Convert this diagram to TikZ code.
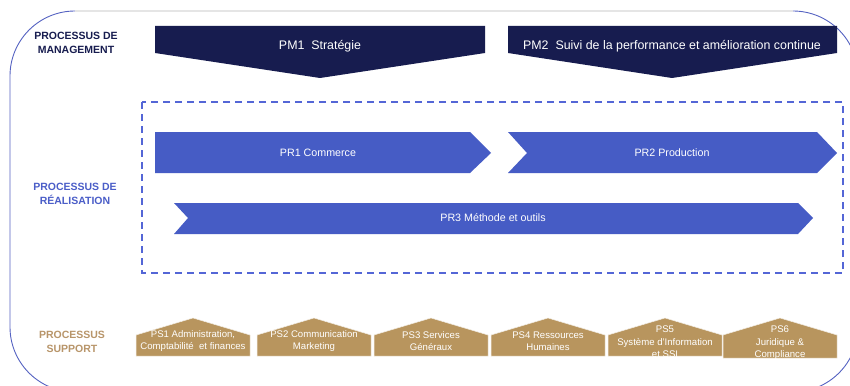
\documentclass[tikz,border=0pt]{standalone}
\usepackage{fontspec}
\setmainfont{Liberation Sans}
\definecolor{navy}{HTML}{171C4F}
\definecolor{prblue}{HTML}{465CC5}
\definecolor{dashblue}{HTML}{5466D6}
\definecolor{frameblue}{HTML}{5563C2}
\definecolor{tan}{HTML}{B8955E}
\definecolor{tanlabel}{HTML}{B8956A}
\definecolor{reallabel}{HTML}{4B5EC8}
\tikzset{
  pmshape/.style={fill=navy,draw=none},
  prshape/.style={fill=prblue,draw=none},
  psshape/.style={fill=tan,draw=white!85!tan,line width=0.5pt},
  pmtext/.style={text=white,font=\fontsize{12.4}{14}\selectfont,inner sep=0pt},
  prtext/.style={text=white,font=\fontsize{10.7}{12}\selectfont,inner sep=0pt},
  pstext/.style={text=white,font=\fontsize{9.6}{12.5}\selectfont,align=center,inner sep=0pt},
  sidelabel/.style={font=\bfseries\fontsize{10.5}{14}\selectfont,align=center,inner sep=0pt},
}
\begin{document}
\begin{tikzpicture}[x=1pt,y=-1pt]
\useasboundingbox (0,0) rectangle (850,385);
\clip (0,0) rectangle (850,385);
\fill[white] (0,0) rectangle (850,385);
% outer frame
\draw[frameblue,line width=0.9pt,rounded corners=65pt] (10,11) rectangle (858,392);
\draw[gray!20,line width=1.2pt] (75,11) -- (793,11);
% side labels
\node[sidelabel,text=navy] (lblman) at (76,43) {PROCESSUS DE\\MANAGEMENT};
\node[sidelabel,text=reallabel] (lblreal) at (75,194) {PROCESSUS DE\\RÉALISATION};
\node[sidelabel,text=tanlabel] (lblsup) at (72,342) {PROCESSUS\\SUPPORT};
% management
\fill[pmshape] (155,26) -- (485,26) -- (485,53) -- (320,78) -- (155,53) -- cycle;
\node[pmtext] (pm1) at (320,46) {PM1 \ Stratégie};
\fill[pmshape] (508,26) -- (837,26) -- (837,53) -- (672,78) -- (508,53) -- cycle;
\node[pmtext] (pm2) at (672,46) {PM2 \ Suivi de la performance et amélioration continue};
% realisation frame
\draw[dashblue,line width=1.8pt,dash pattern=on 7pt off 5pt] (142,102) rectangle (843,273);
\fill[prshape] (155,132) -- (470,132) -- (491,153) -- (470,173) -- (155,173) -- cycle;
\node[prtext] (pr1) at (318,153) {PR1 Commerce};
\fill[prshape] (508,132) -- (817,132) -- (837,153) -- (817,173) -- (508,173) -- (527,153) -- cycle;
\node[prtext] (pr2) at (672,153) {PR2 Production};
\fill[prshape] (174,203) -- (798,203) -- (813,218) -- (798,234) -- (174,234) -- (188,218) -- cycle;
\node[prtext] (pr3) at (493,218) {PR3 Méthode et outils};
% support
\foreach \L/\B in {136/356,257/356,374/356,491/356,608/356,723/358}{
  \filldraw[psshape] (\L,\B) -- (\L,335) -- (\L+57,318) -- (\L+114,335) -- (\L+114,\B) -- cycle;
}
\node[pstext] (ps1) at (193,341) {PS1 Administration,\\Comptabilité \ et finances};
\node[pstext] (ps2) at (314,341) {PS2 Communication\\Marketing};
\node[pstext] (ps3) at (431,341) {PS3 Services\\Généraux};
\node[pstext] (ps4) at (548,341) {PS4 Ressources\\Humaines};
\node[pstext] (ps5) at (665,342) {PS5\\Système d’Information\\et SSI};
\node[pstext] (ps6) at (780,343) {PS6\\Juridique \&\\Compliance};
\end{tikzpicture}
\end{document}
